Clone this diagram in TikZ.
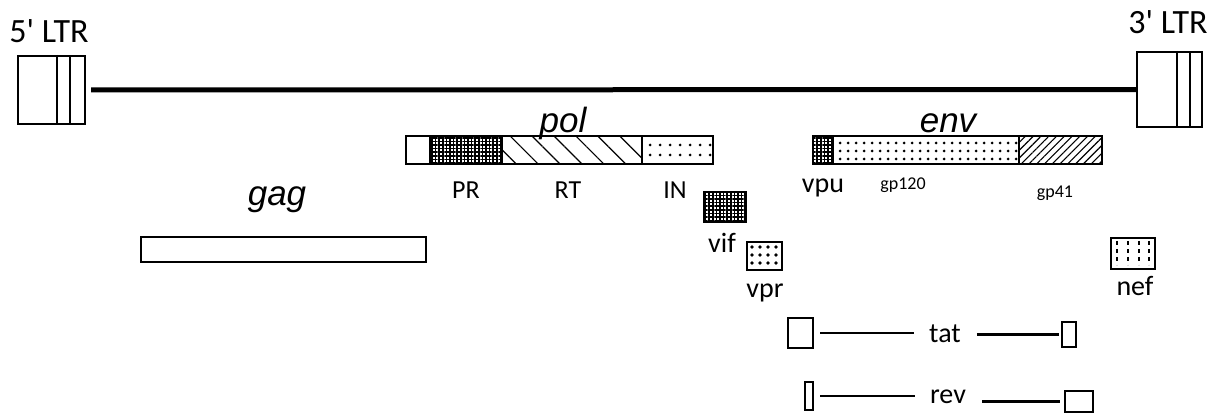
\documentclass[tikz,border=0pt]{standalone}
\usepackage{fontspec}
\setmainfont{Carlito}
\newfontfamily\genefont{Liberation Sans}
\usetikzlibrary{patterns.meta}
\tikzset{
  bx/.style={draw, line width=2.2pt, inner sep=0pt, fill=white},
  ltr/.style={draw, line width=2.2pt, inner sep=0pt, fill=white},
  gene/.style={font=\genefont\itshape\fontsize{35}{38}\selectfont, inner sep=0pt, anchor=base},
  big/.style={font=\fontsize{34}{38}\selectfont, inner sep=0pt, anchor=base},
  lab/.style={font=\fontsize{26}{30}\selectfont, inner sep=0pt, anchor=base},
  lowlab/.style={font=\fontsize{28}{30}\selectfont, inner sep=0pt, anchor=base},
  small/.style={font=\fontsize{18}{22}\selectfont, inner sep=0pt, anchor=base},
  conn/.style={line width=2.4pt},
  grid/.style={pattern={Hatch[angle=0,distance=3.6pt,line width=1.6pt]}},
}
\begin{document}
\begin{tikzpicture}[x=1pt,y=-1pt]
\useasboundingbox (0,0) rectangle (1219,415);

% LTRs
\node[ltr, minimum width=67pt, minimum height=68pt] (ltr5) at (51.5,90) {};
\draw[line width=2.2pt] (ltr5.north west) ++(40,0) -- ++(0,68) ++(13,0) -- ++(0,-68);
\node[ltr, minimum width=65pt, minimum height=75pt] (ltr3) at (1169.5,89.5) {};
\draw[line width=2.2pt] (ltr3.north west) ++(41,0) -- ++(0,75) ++(13,0) -- ++(0,-75);
\node[big] (t5) at (49,42) {5\textquotesingle{} LTR};
\node[big] (t3) at (1168,33) {3\textquotesingle{} LTR};
\draw[line width=5pt, shorten <=5pt] (ltr5.east) -- (ltr3.west);

% pol
\node[bx, minimum width=24pt, minimum height=28pt] (polW) at (418,150) {};
\node[bx, grid, minimum width=72pt, minimum height=28pt] (PRs) at (466,150) {};
\node[bx, pattern={Lines[angle=-45,distance=15.5pt,line width=1.2pt]}, minimum width=140pt, minimum height=28pt] (RTs) at (572,150) {};
\node[bx, pattern={Dots[distance=10pt,radius=1.5pt]}, minimum width=71pt, minimum height=28pt] (INs) at (677.5,150) {};
\node[gene] (pol) at (563,132) {pol};
\node[lab] (PR) at (466,198) {PR};
\node[lab] (RT) at (568,198) {RT};
\node[lab] (IN) at (675,198) {IN};

% env
\node[bx, grid, minimum width=20pt, minimum height=28pt] (vpus) at (823,150) {};
\node[bx, pattern={Dots[distance=8pt,radius=1.5pt]}, minimum width=186pt, minimum height=28pt] (gp120s) at (926,150) {};
\node[bx, pattern={Lines[angle=45,distance=5.5pt,line width=1.1pt]}, minimum width=83pt, minimum height=28pt] (gp41s) at (1060.5,150) {};
\node[gene] (env) at (948,132) {env};
\node[lowlab] (vpu) at (823,192) {vpu};
\node[small] (gp120) at (903,189) {gp120};
\node[small] (gp41) at (1055,197) {gp41};

% gag
\node[bx, minimum width=285pt, minimum height=25pt] (gagb) at (283.5,249.5) {};
\node[gene] (gag) at (277,205) {gag};

% vif, vpr, nef
\node[bx, grid, minimum width=42pt, minimum height=30pt] (vifb) at (725,207) {};
\node[lowlab] (vif) at (722,252) {vif};
\node[bx, pattern={Dots[distance=8pt,radius=1.8pt]}, minimum width=35pt, minimum height=28pt] (vprb) at (764.5,256) {};
\node[lowlab] (vpr) at (765,297) {vpr};
\node[bx, minimum width=44pt, minimum height=31pt] (nefb) at (1133,253.5) {};
\foreach \dx in {7,18,29,39}
  \draw[line width=1.8pt, dash pattern=on 4pt off 4pt] (nefb.north west) ++(\dx,4) -- ++(0,24);
\node[lowlab] (nef) at (1135,295) {nef};

% tat
\node[bx, minimum width=25pt, minimum height=30pt] (tatL) at (800.5,333) {};
\node[bx, minimum width=14pt, minimum height=25pt] (tatR) at (1069,334.5) {};
\node[lowlab] (tat) at (945,342) {tat};
\draw[conn, shorten <=6pt, shorten >=15pt] (tatL.east) -- (tatL.east -| tat.west);
\draw[conn, shorten <=16pt, shorten >=2pt] (tat.east |- tatR.west) -- (tatR.west);

% rev
\node[bx, minimum width=8pt, minimum height=28pt] (revL) at (809,396) {};
\node[bx, minimum width=28pt, minimum height=21pt] (revR) at (1079,401.5) {};
\node[lowlab] (rev) at (948,403) {rev};
\draw[conn, shorten <=6pt, shorten >=15pt] (revL.east) -- (revL.east -| rev.west);
\draw[conn, shorten <=16pt, shorten >=4pt] (rev.east |- revR.west) -- (revR.west);
\end{tikzpicture}
\end{document}
